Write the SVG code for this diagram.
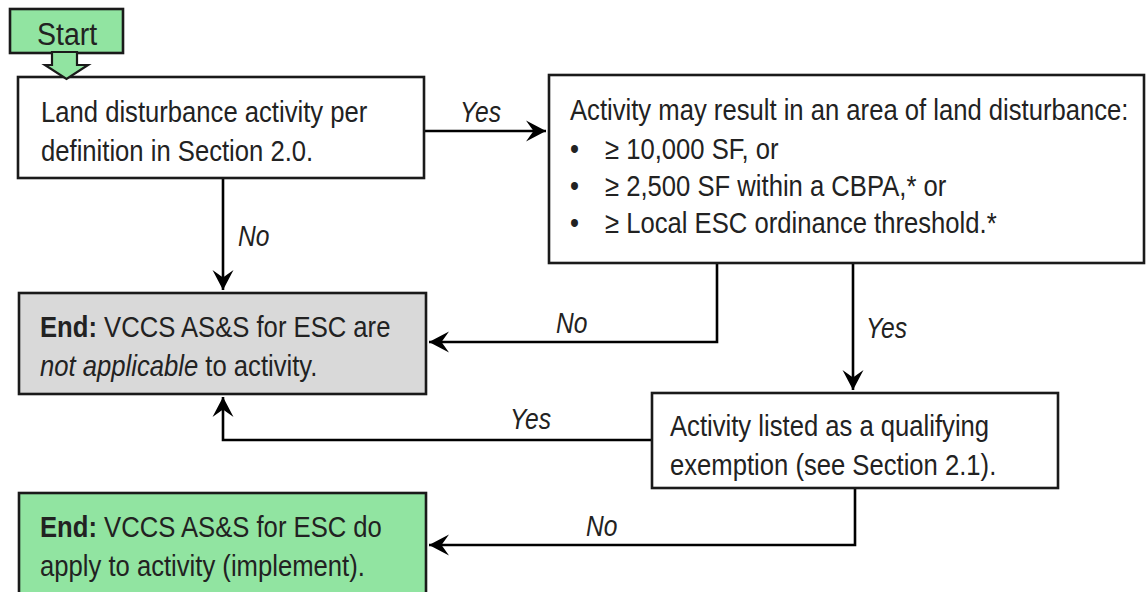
<svg xmlns="http://www.w3.org/2000/svg" width="1147" height="592" viewBox="0 0 1147 592">
<style>
.box{stroke:#1a1a1a;stroke-width:2.6;fill:#ffffff}
.gray{fill:#d9d9d9}
.green{fill:#91e4a1}
.t{font-family:"Liberation Sans",Arial,sans-serif;font-size:30px;fill:#222}
.lbl{font-family:"Liberation Sans",Arial,sans-serif;font-size:30px;font-style:italic;fill:#222}
.b{font-weight:bold}
.i{font-style:italic}
.conn{fill:none;stroke:#000;stroke-width:2.6}
</style>
<defs>
<marker id="ah" markerUnits="userSpaceOnUse" markerWidth="24" markerHeight="26" viewBox="-22 -12 24 24" refX="0" refY="0" orient="auto">
<path d="M0,0 L-20,-10.5 L-12.5,0 L-20,10.5 Z" fill="#000"/>
</marker>
</defs>
<rect width="1147" height="592" fill="#ffffff"/>

<g id="connectors">
<polyline class="conn" points="424,131 546,131" marker-end="url(#ah)"/>
<polyline class="conn" points="223,178 223,290" marker-end="url(#ah)"/>
<polyline class="conn" points="717,263 717,342 429,342" marker-end="url(#ah)"/>
<polyline class="conn" points="853,263 853,390" marker-end="url(#ah)"/>
<polyline class="conn" points="652,440 223,440 223,397" marker-end="url(#ah)"/>
<polyline class="conn" points="855,488 855,545 429,545" marker-end="url(#ah)"/>
<text class="lbl" transform="translate(460 122) scale(0.82 1)">Yes</text>
<text class="lbl" transform="translate(238 246) scale(0.82 1)">No</text>
<text class="lbl" transform="translate(556 333) scale(0.82 1)">No</text>
<text class="lbl" transform="translate(866 338) scale(0.82 1)">Yes</text>
<text class="lbl" transform="translate(510 429) scale(0.82 1)">Yes</text>
<text class="lbl" transform="translate(586 536) scale(0.82 1)">No</text>
</g>

<g id="node-land">
<rect class="box" x="18" y="77" width="406" height="101"/>
<text class="t" transform="translate(41 122) scale(0.855 1)">Land disturbance activity per</text>
<text class="t" transform="translate(41 161) scale(0.855 1)">definition in Section 2.0.</text>
</g>

<g id="node-start">
<rect class="box green" x="10" y="9" width="113" height="44"/>
<text class="t" transform="translate(37 45) scale(0.92 1)" style="font-size:31px">Start</text>
<polygon class="green" points="52,52 77,52 77,65 88,65 66.5,79 45,65 52,65" stroke="#1a1a1a" stroke-width="2.2" stroke-linejoin="miter"/>
</g>

<g id="node-area">
<rect class="box" x="549" y="75" width="595" height="188"/>
<text class="t" transform="translate(570 120) scale(0.855 1)">Activity may result in an area of land disturbance:</text>
<text class="t" transform="translate(570 159) scale(0.855 1)">•</text>
<text class="t" transform="translate(605 159) scale(0.855 1)">≥ 10,000 SF, or</text>
<text class="t" transform="translate(570 196) scale(0.855 1)">•</text>
<text class="t" transform="translate(605 196) scale(0.855 1)">≥ 2,500 SF within a CBPA,* or</text>
<text class="t" transform="translate(570 233) scale(0.855 1)">•</text>
<text class="t" transform="translate(605 233) scale(0.855 1)">≥ Local ESC ordinance threshold.*</text>
</g>

<g id="node-not-applicable">
<rect class="box gray" x="19" y="293" width="407" height="101"/>
<text class="t" transform="translate(40 337) scale(0.855 1)"><tspan class="b">End:</tspan> VCCS AS&amp;S for ESC are</text>
<text class="t" transform="translate(40 376) scale(0.855 1)"><tspan class="i">not applicable</tspan> to activity.</text>
</g>

<g id="node-exemption">
<rect class="box" x="652" y="393" width="406" height="95"/>
<text class="t" transform="translate(670 436) scale(0.855 1)">Activity listed as a qualifying</text>
<text class="t" transform="translate(670 475) scale(0.855 1)">exemption (see Section 2.1).</text>
</g>

<g id="node-apply">
<rect class="box green" x="19" y="493" width="407" height="110"/>
<text class="t" transform="translate(40 537) scale(0.855 1)"><tspan class="b">End:</tspan> VCCS AS&amp;S for ESC do</text>
<text class="t" transform="translate(40 576) scale(0.855 1)">apply to activity (implement).</text>
</g>
</svg>
